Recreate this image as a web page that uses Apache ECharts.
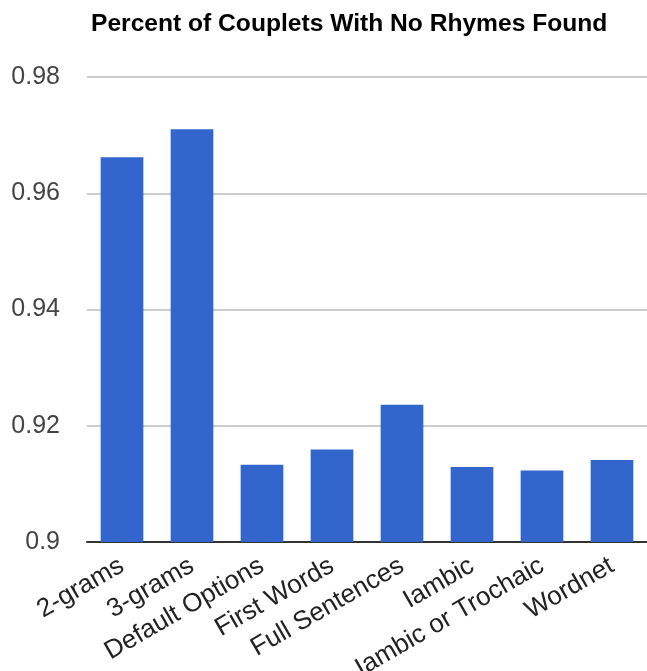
<!DOCTYPE html>
<html>
<head>
<meta charset="utf-8">
<script src="https://cdn.jsdelivr.net/npm/echarts@6/dist/echarts.min.js"></script>
<style>
  html, body { margin: 0; padding: 0; background: #fff; }
  #main { width: 647px; height: 671px; }
</style>
</head>
<body>
<div id="main"></div>
<script>
var chartDom = document.getElementById("main");
var myChart = echarts.init(chartDom);
var option;

const categories = [
  "2-grams",
  "3-grams",
  "Default Options",
  "First Words",
  "Full Sentences",
  "Iambic",
  "Iambic or Trochaic",
  "Wordnet",
];
// share of couplets where no rhyme was found
const noRhymeShare = [0.9662, 0.971, 0.9133, 0.9159, 0.9236, 0.9129, 0.9123, 0.9141];

const yMin = 0.9;
const yMax = 0.98;
const yStep = 0.02;

option = {
  animation: false,
  title: {
    text: "Percent of Couplets With No Rhymes Found",
    left: 86,
    top: 7,
    textStyle: {
      fontFamily: "Liberation Sans, Arial, sans-serif",
      fontWeight: "bold",
      fontSize: 24.6,
      color: "#000",
    },
  },
  grid: {
    left: 87,
    right: 0,
    top: 77,
    bottom: 129,
    outerBoundsMode: "none",
  },
  xAxis: {
    type: "category",
    data: categories,
    axisLine: { lineStyle: { color: "#333", width: 2 } },
    axisTick: { show: false },
    axisLabel: {
      rotate: 30,
      margin: 22,
      interval: 0,
      fontSize: 26,
      fontFamily: "Liberation Sans, Arial, sans-serif",
      color: "#222",
    },
  },
  yAxis: {
    type: "value",
    min: yMin,
    max: yMax,
    interval: yStep,
    axisLine: { show: false },
    axisTick: { show: false },
    splitLine: { lineStyle: { color: "#ccc", width: 2 } },
    axisLabel: {
      margin: 27,
      fontSize: 25,
      fontFamily: "Liberation Sans, Arial, sans-serif",
      color: "#444",
      formatter: (v) => String(Math.round(v * 100) / 100),
    },
  },
  series: [
    {
      name: "No rhymes found",
      type: "bar",
      data: noRhymeShare,
      barWidth: "61%",
      itemStyle: { color: "#3366cc" },
    },
  ],
};

option && myChart.setOption(option);
</script>
</body>
</html>
